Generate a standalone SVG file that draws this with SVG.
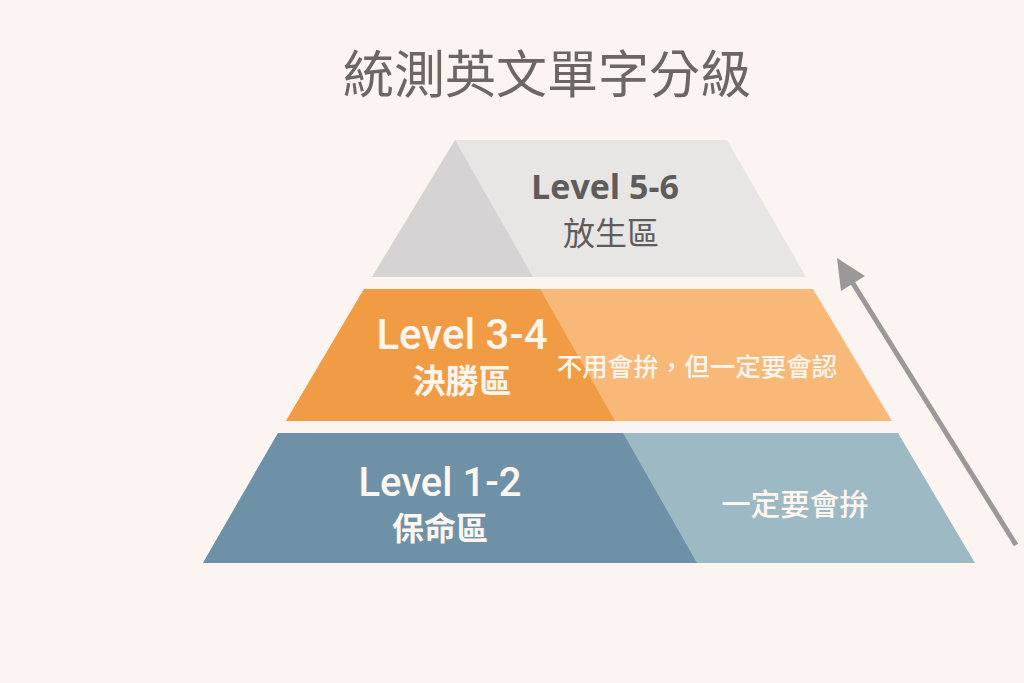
<svg xmlns="http://www.w3.org/2000/svg" width="1024" height="683" viewBox="0 0 1024 683">
  <defs>
    <style>
      .title { font-family: "Noto Sans CJK TC", "Noto Sans", sans-serif; font-size: 51px; font-weight: 400; fill: #6b6765; text-anchor: middle; }
      .lvl { font-family: "Open Sans", "Liberation Sans", sans-serif; font-weight: 700; text-anchor: middle; }
      .lvlc { font-family: "Roboto", "Liberation Sans", sans-serif; font-weight: 500; text-anchor: middle; fill: #fdf6ef; }
      .zh { font-family: "Noto Sans CJK TC", sans-serif; text-anchor: middle; }
      .white { fill: #fdf6ef; }
    </style>
  </defs>
  <rect width="1024" height="683" fill="#fbf4f0"/>
  <text class="title" x="547" y="93">統測英文單字分級</text>

  <g id="tier-top">
    <polygon points="455,140 727,140 806,277 372,277" fill="#e8e6e5"/>
    <polygon points="455,140 533,277 372,277" fill="#d5d3d3"/>
    <text class="lvl" x="605" y="199" font-size="34" fill="#5f5c5b">Level 5-6</text>
    <text class="zh" x="611" y="245" font-size="32" fill="#5f5c5b">放生區</text>
  </g>

  <g id="tier-middle">
    <polygon points="364,289 813,289 892,421 286,421" fill="#f8b877"/>
    <polygon points="364,289 540,289 615,421 286,421" fill="#f19c44"/>
    <text class="lvlc" x="462" y="349" font-size="42">Level 3-4</text>
    <text class="zh white" x="462" y="393" font-size="33" font-weight="700">決勝區</text>
    <text class="zh white" x="697" y="376" font-size="25.5" font-weight="500">不用會拚，但一定要會認</text>
  </g>

  <g id="tier-bottom">
    <polygon points="278,433 898,433 975,563 203,563" fill="#9dbac4"/>
    <polygon points="278,433 623,433 697,563 203,563" fill="#6e91a8"/>
    <text class="lvlc" x="440" y="496" font-size="40">Level 1-2</text>
    <text class="zh white" x="440" y="540" font-size="32" font-weight="700">保命區</text>
    <text class="zh white" x="795" y="515" font-size="29.5" font-weight="500">一定要會拚</text>
  </g>

  <g id="connectors">
    <line x1="1016" y1="545" x2="849" y2="277" stroke="#9a9898" stroke-width="5"/>
    <polygon points="837,258 865,276 841,291" fill="#9a9898"/>
  </g>
</svg>
